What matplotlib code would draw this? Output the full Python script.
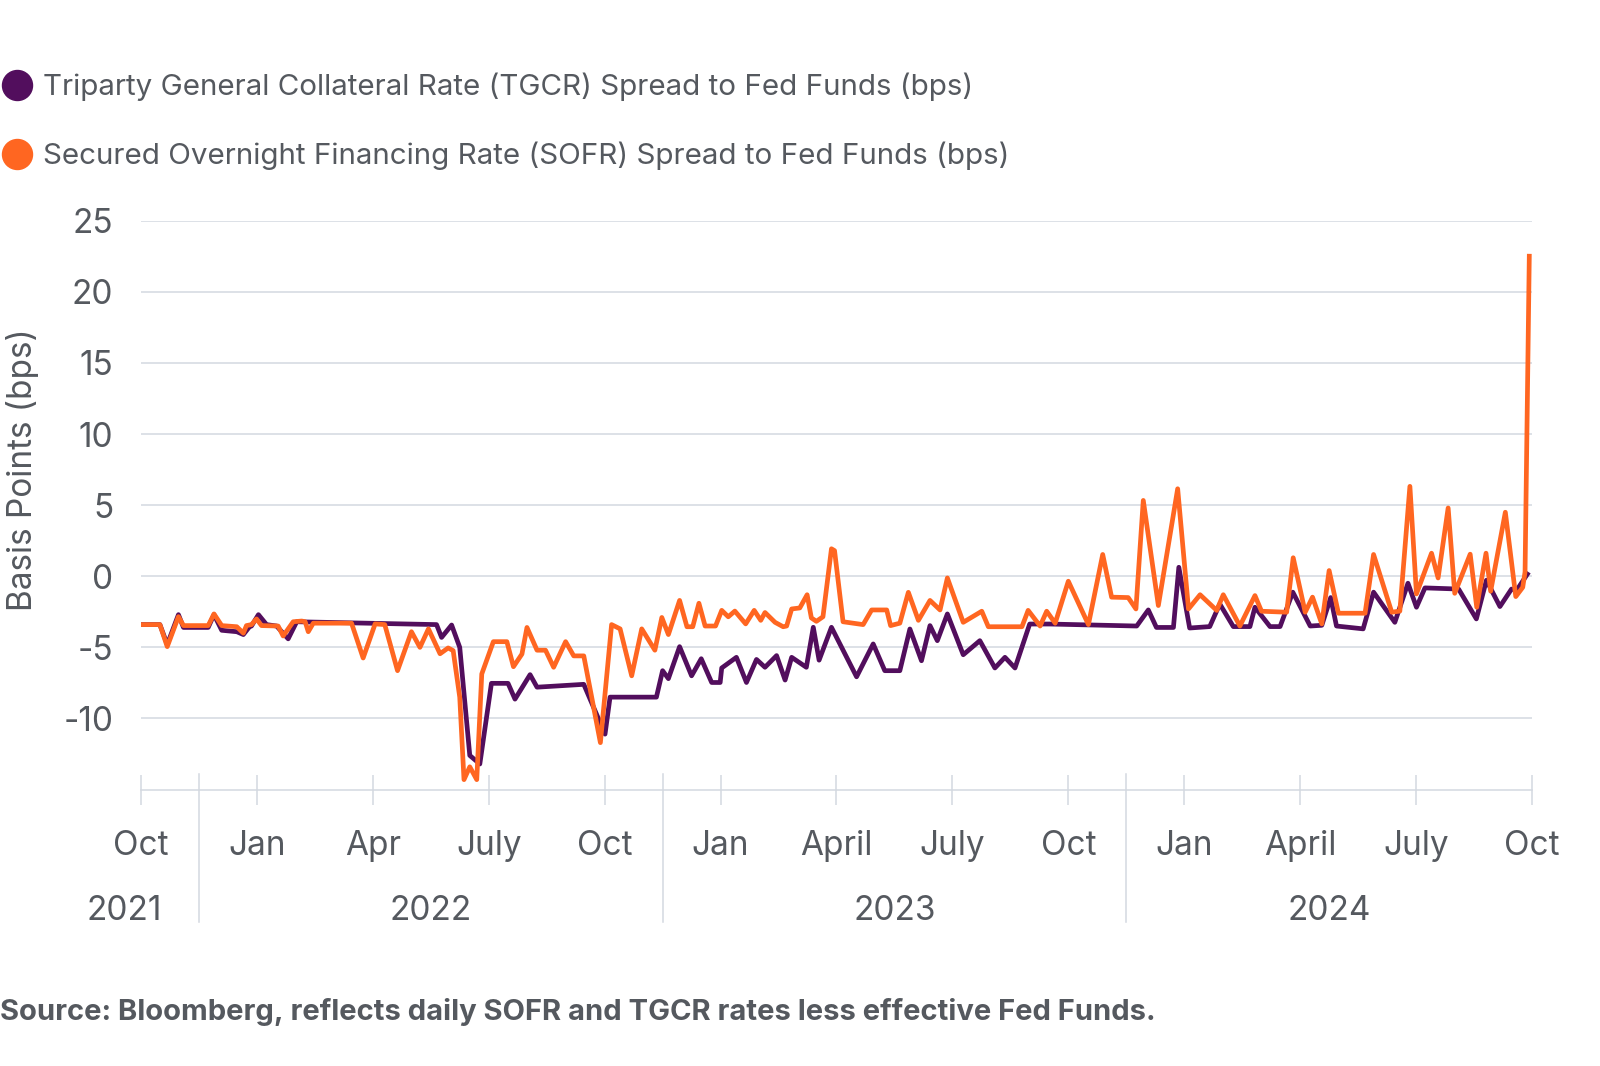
import matplotlib.pyplot as plt
from matplotlib.lines import Line2D
from matplotlib.transforms import blended_transform_factory

plt.rcParams['font.family'] = ['Inter', 'DejaVu Sans']
plt.rcParams['axes.unicode_minus'] = False

# x values are months after 1 Oct 2021
tgcr_month = [0.02, 0.49, 0.68, 0.97, 1.10, 1.74, 1.89, 2.09, 2.48, 2.65, 2.81, 2.86, 3.04, 3.25,
              3.51, 3.81, 4.03, 7.65, 7.78, 8.04, 8.25, 8.51, 8.77, 9.07, 9.50, 9.68, 10.07,
              10.25, 11.46, 12.01, 12.14, 13.34, 13.50, 13.65, 13.94, 14.25, 14.50, 14.77,
              14.99, 15.03, 15.41, 15.67, 15.93, 16.15, 16.45, 16.67, 16.84, 17.22, 17.40,
              17.55, 17.87, 18.52, 18.95, 19.25, 19.64, 19.90, 20.20, 20.42, 20.61, 20.87,
              21.28, 21.71, 22.10, 22.36, 22.62, 23.00, 23.52, 25.77, 26.07, 26.28, 26.72,
              26.86, 27.14, 27.66, 27.92, 28.27, 28.70, 28.83, 29.22, 29.48, 29.81, 30.26,
              30.56, 30.79, 30.94, 31.63, 31.90, 32.45, 32.79, 33.01, 33.23, 34.10, 34.56,
              34.82, 35.17, 35.47, 35.60, 35.88]
tgcr_bps = [-3.4, -3.4, -4.8, -2.7, -3.6, -3.6, -2.7, -3.8, -3.9, -4.1, -3.55, -3.5, -2.7, -3.4,
            -3.5, -4.4, -3.2, -3.4, -4.3, -3.43, -5.0, -12.6, -13.2, -7.53, -7.53, -8.64, -6.92,
            -7.8, -7.6, -11.1, -8.5, -8.5, -6.64, -7.2, -4.95, -7.0, -5.8, -7.47,
            -7.47, -6.45, -5.7, -7.47, -5.85, -6.4, -5.58, -7.3, -5.7, -6.4, -3.59,
            -5.9, -3.59, -7.07, -4.76, -6.64, -6.64, -3.71, -5.94, -3.47, -4.53, -2.65,
            -5.52, -4.53, -6.45, -5.7, -6.45, -3.36, -3.36, -3.5, -2.37, -3.6, -3.6,
            0.63, -3.64, -3.54, -1.95, -3.54, -3.54, -2.18, -3.54, -3.54, -1.12, -3.5,
            -3.45, -1.5, -3.5, -3.7, -1.12, -3.24, -0.49, -2.18, -0.82, -0.9, -3.0,
            -0.28, -2.13, -0.9, -1.0, 0.15]

sofr_month = [0.02, 0.49, 0.68, 0.97, 1.10, 1.74, 1.89, 2.09, 2.48, 2.65, 2.73, 2.86, 2.99, 3.12,
              3.55, 3.68, 3.94, 4.16, 4.25, 4.33, 4.46, 5.45, 5.75, 6.06, 6.31, 6.64, 7.00,
              7.22, 7.44, 7.74, 7.95, 8.08, 8.25, 8.36, 8.51, 8.69, 8.82, 9.12, 9.47, 9.64,
              9.86, 9.99, 10.25, 10.47, 10.68, 10.99, 11.20, 11.46, 11.89, 12.18, 12.40,
              12.70, 12.96, 13.30, 13.48, 13.65, 13.94, 14.13, 14.28, 14.44, 14.60, 14.87,
              15.03, 15.20, 15.37, 15.65, 15.87, 16.04, 16.15, 16.41, 16.62, 16.71, 16.84,
              17.05, 17.24, 17.35, 17.48, 17.65, 17.87, 17.95, 18.17, 18.69, 18.91, 19.30,
              19.40, 19.64, 19.86, 20.12, 20.42, 20.68, 20.87, 21.28, 21.76, 21.93, 22.80,
              22.96, 23.27, 23.44, 23.66, 24.00, 24.52, 24.89, 25.12, 25.55, 25.75, 25.94,
              26.33, 26.83, 27.11, 27.41, 27.84, 28.01, 28.44, 28.83, 29.00, 29.65, 29.82,
              30.13, 30.32, 30.56, 30.75, 30.99, 31.68, 31.90, 32.37, 32.58, 32.84, 33.01,
              33.40, 33.57, 33.83, 34.00, 34.40, 34.57, 34.81, 34.93, 35.31, 35.58, 35.76,
              35.82, 35.93]
sofr_bps = [-3.4, -3.4, -4.95, -2.84, -3.47, -3.47, -2.65, -3.47, -3.55, -4.0, -3.47, -3.4, -3.0, -3.47,
            -3.5, -4.2, -3.2, -3.15, -3.2, -3.9, -3.3, -3.3, -5.75, -3.35, -3.4, -6.64, -3.9,
            -5.0, -3.7, -5.45, -5.04, -5.23, -8.5, -14.3, -13.4, -14.3, -6.87, -4.6, -4.6, -6.36,
            -5.47, -3.6, -5.2, -5.2, -6.4, -4.6, -5.6, -5.6, -11.7, -3.4, -3.7,
            -7.0, -3.7, -5.2, -2.9, -4.1, -1.7, -3.55, -3.55, -1.9, -3.5, -3.5,
            -2.4, -2.85, -2.45, -3.35, -2.4, -3.1, -2.55, -3.24, -3.55, -3.5, -2.3,
            -2.23, -1.3, -2.93, -3.17, -2.85, 1.93, 1.8, -3.2, -3.4, -2.37, -2.37,
            -3.47, -3.3, -1.13, -3.1, -1.7, -2.37, -0.12, -3.24, -2.46, -3.55, -3.55,
            -2.4, -3.5, -2.46, -3.3, -0.35, -3.4, 1.53, -1.47, -1.5, -2.3, 5.33,
            -2.06, 6.15, -2.3, -1.3, -2.4, -1.3, -3.5, -1.36, -2.46, -2.53, 1.3,
            -2.53, -1.47, -3.35, 0.4, -2.6, -2.6, 1.53, -2.53, -2.45, 6.32, -1.24,
            1.62, -0.12, 4.8, -1.2, 1.55, -2.18, 1.62, -1.05, 4.5, -1.43, -0.78,
            0.3, 22.5]

tick_months = list(range(0, 37, 3))
tick_labels = ['Oct', 'Jan', 'Apr', 'July', 'Oct', 'Jan', 'April', 'July', 'Oct',
               'Jan', 'April', 'July', 'Oct']
year_labels = ['2021', '2022', '2023', '2024']
year_centers = [-0.43, 7.5, 19.5, 30.75]
year_breaks = [1.5, 13.5, 25.5]

tgcr_label = 'Triparty General Collateral Rate (TGCR) Spread to Fed Funds (bps)'
sofr_label = 'Secured Overnight Financing Rate (SOFR) Spread to Fed Funds (bps)'

purple = '#520E5D'
orange = '#FF6621'
text_color = '#55595F'
grid_color = '#D3D8E0'

fig = plt.figure(figsize=(16, 10.66), dpi=100)
ax = fig.add_axes([0.0881, 0.2593, 0.8694, 0.5337])

ax.plot(tgcr_month, tgcr_bps, color=purple, lw=3.4, solid_joinstyle='round', label=tgcr_label)
ax.plot(sofr_month, sofr_bps, color=orange, lw=3.4, solid_joinstyle='round', label=sofr_label)

ax.set_xlim(0, 36)
ax.set_ylim(-15, 25)
ax.set_yticks(range(-10, 30, 5))
ax.grid(axis='y', color=grid_color, lw=1.1)
ax.set_axisbelow(True)
for s in ['top', 'right', 'left']:
    ax.spines[s].set_visible(False)
ax.spines['bottom'].set_color(grid_color)
ax.spines['bottom'].set_linewidth(1.1)

ax.tick_params(axis='y', length=0, pad=20, labelsize=24, labelcolor=text_color)
ax.set_xticks(tick_months)
ax.set_xticklabels(tick_labels)
ax.tick_params(axis='x', direction='inout', length=22, width=1.1, color=grid_color,
               pad=18, labelsize=24, labelcolor=text_color)

ax.text(-0.0855, 0.562, 'Basis Points (bps)', transform=ax.transAxes, rotation=90,
        ha='center', va='center', fontsize=24, color=text_color)

trans = blended_transform_factory(ax.transData, ax.transAxes)
for xb in year_breaks:
    ax.plot([xb, xb], [0.0274, -0.233], transform=trans, color=grid_color, lw=1.1, clip_on=False)
for yl, xc in zip(year_labels, year_centers):
    ax.text(xc, -0.213, yl, transform=trans, ha='center', va='center', fontsize=24, color=text_color)

handles = [Line2D([], [], ls='', marker='o', ms=21.6, color=purple),
           Line2D([], [], ls='', marker='o', ms=21.6, color=orange)]
fig.legend(handles, [tgcr_label, sofr_label], loc='upper left', bbox_to_anchor=(0.00125, 0.932),
           frameon=False, fontsize=21.3, handlelength=1.02, handletextpad=0.37, labelspacing=1.37,
           borderpad=0, borderaxespad=0, labelcolor=text_color)

fig.text(0.0, 1 - 1012 / 1066, 'Source: Bloomberg, reflects daily SOFR and TGCR rates less effective Fed Funds.',
         fontsize=21, fontweight='bold', color=text_color, ha='left', va='center')

fig.savefig('out.png', dpi=100)
